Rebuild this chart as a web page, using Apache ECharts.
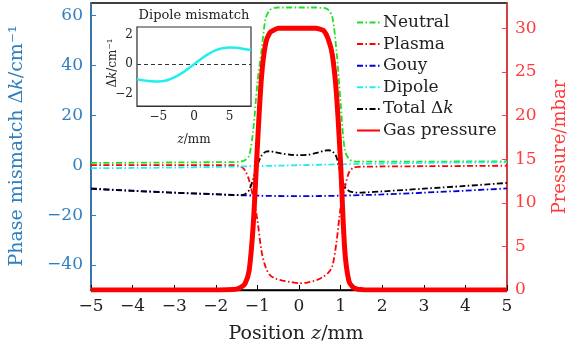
<!DOCTYPE html>
<html>
<head>
<meta charset="utf-8">
<script src="https://cdn.jsdelivr.net/npm/echarts@6/dist/echarts.min.js"></script>
<style>
  html, body { margin: 0; padding: 0; background: #fff; }
  #chart { width: 569px; height: 349px; }
</style>
</head>
<body>
<div id="chart"></div>
<script>
// positions along the beam (mm), shared by the gas-profile curves
const zs = [-5, -4, -3, -2, -1.6, -1.5, -1.4, -1.3, -1.2, -1.1, -1.0, -0.9, -0.8, -0.7, -0.6, -0.5, -0.4, -0.2, 0,
  0.2, 0.4, 0.5, 0.6, 0.7, 0.8, 0.9, 1.0, 1.1, 1.2, 1.3, 1.4, 1.5, 1.6, 2, 3, 4, 5];

const pressure = [0, 0, 0, 0, 0.05, 0.1, 0.3, 0.7, 2.2, 7.5, 16.5, 24.5, 28.3, 29.5, 29.8, 30, 30, 30, 30,
  30, 30, 29.9, 29.7, 28.8, 27.0, 22.5, 14.5, 4.6, 1.0, 0.3, 0.1, 0.05, 0, 0, 0, 0, 0];

const neutral = [0.9, 1.0, 1.1, 1.2, 1.2, 1.3, 1.5, 2.0, 3.8, 14, 33, 46, 59, 62.2, 63, 63.2, 63.2, 63.2, 63.2,
  63.2, 63.2, 63.1, 63, 62.3, 59.5, 46, 25, 6, 2.5, 1.6, 1.4, 1.4, 1.4, 1.4, 1.4, 1.5, 1.5];

const plasma = [0, 0, 0, 0, 0, -0.1, -0.5, -2, -6, -13, -22, -34.5, -41, -44, -45.2, -45.8, -46.2, -46.8, -47.3,
  -47, -46.2, -45.5, -44.5, -43.2, -40.5, -31, -17, -9, -3, -1.0, -0.7, -0.6, -0.6, -0.5, -0.4, -0.3, -0.2];

const total = [-9.5, -10.3, -11.0, -11.6, -11.9, -12.0, -12.0, -11.6, -10.0, -5.5, 0, 3.8, 5.4, 5.6, 5.3, 4.9, 4.6, 4.2, 4.0,
  4.2, 4.8, 5.3, 5.8, 6.0, 5.6, 3.3, -3.3, -8.7, -10.3, -10.8, -11.0, -11.0, -10.9, -10.5, -9.4, -8.3, -7.1];

// slowly varying terms, coarser sampling
const zCoarse = [-5, -4, -3, -2, -1, 0, 1, 2, 3, 4, 5];
const gouy = [-9.3, -10.2, -11.0, -11.7, -12.2, -12.4, -12.2, -11.7, -11.0, -10.2, -9.3];
const dipole = [-1.16, -1.1, -0.93, -0.68, -0.36, 0, 0.36, 0.68, 0.93, 1.08, 1.12];

// inset: dipole mismatch over a wider range
const insetZ = [-8, -7, -6, -5, -4, -3, -2, -1, 0, 1, 2, 3, 4, 5, 6, 7, 8];
const insetDipole = [-1.0, -1.08, -1.14, -1.16, -1.1, -0.93, -0.68, -0.36, 0, 0.36, 0.68, 0.93, 1.08, 1.12, 1.1, 1.03, 0.95];

const xTicks = [-5, -4, -3, -2, -1, 0, 1, 2, 3, 4, 5];
const leftTicks = [-40, -20, 0, 20, 40, 60];
const rightTicks = [0, 5, 10, 15, 20, 25, 30];
const insetXTicks = [-5, 0, 5];
const insetYTicks = [-2, 0, 2];

const FONT = 'DejaVu Serif';
const BLUE_AXIS = '#2f7fc0';
const RED_AXIS = '#ff3b3b';
const DASHDOT = [6, 2.5, 1.5, 2.5];

const pairs = (xs, ys) => xs.map((x, i) => [x, ys[i]]);
const minus = v => String(v).replace('-', '\u2212');

const chart = echarts.init(document.getElementById('chart'), null, { renderer: 'canvas' });

function thin(name, color, xs, ys, type) {
  return {
    name: name, type: 'line', xAxisIndex: 0, yAxisIndex: 0,
    data: pairs(xs, ys), symbol: 'none', smooth: 0.3,
    lineStyle: { color: color, width: 1.8, type: type || DASHDOT },
    itemStyle: { color: color }
  };
}

const option = {
  animation: false,
  backgroundColor: '#fff',
  textStyle: { fontFamily: FONT },
  grid: [
    { left: 91, right: 62, top: 3, bottom: 59, show: true, borderColor: '#000', borderWidth: 1.3 },
    { left: 137, top: 27, width: 114, height: 79, show: true, borderColor: '#333', borderWidth: 1.2, backgroundColor: '#fff', z: 5 }
  ],
  xAxis: [
    {
      type: 'value', gridIndex: 0, min: -5, max: 5, interval: 1,
      axisLine: { onZero: false, lineStyle: { color: '#000', width: 1.3 } },
      axisTick: { inside: true, length: 5, lineStyle: { color: '#000' }, customValues: xTicks },
      axisLabel: { color: '#222', fontSize: 17, fontFamily: FONT, margin: 8, formatter: minus, customValues: xTicks },
      splitLine: { show: false }
    },
    {
      type: 'value', gridIndex: 1, min: -8, max: 8,
      axisLine: { onZero: false, lineStyle: { color: '#333', width: 1.2 } },
      axisTick: { inside: true, length: 3, lineStyle: { color: '#333' }, customValues: insetXTicks },
      axisLabel: { color: '#222', fontSize: 12, fontFamily: FONT, margin: 5, formatter: minus, customValues: insetXTicks },
      splitLine: { show: false }
    }
  ],
  yAxis: [
    {
      type: 'value', gridIndex: 0, min: -50, max: 65, position: 'left',
      axisLine: { show: true, onZero: false, lineStyle: { color: BLUE_AXIS, width: 1.5 } },
      axisTick: { show: true, inside: true, length: 5, lineStyle: { color: BLUE_AXIS }, customValues: leftTicks },
      axisLabel: { color: BLUE_AXIS, fontSize: 17, fontFamily: FONT, margin: 8, formatter: minus, customValues: leftTicks },
      splitLine: { show: false }
    },
    {
      type: 'value', gridIndex: 0, min: 0, max: 32.9, position: 'right',
      axisLine: { show: true, onZero: false, lineStyle: { color: RED_AXIS, width: 1.5 } },
      axisTick: { show: true, inside: true, length: 5, lineStyle: { color: RED_AXIS }, customValues: rightTicks },
      axisLabel: { color: RED_AXIS, fontSize: 17, fontFamily: FONT, margin: 8, customValues: rightTicks },
      splitLine: { show: false }
    },
    {
      type: 'value', gridIndex: 1, min: -2.8, max: 2.5,
      axisLine: { show: true, onZero: false, lineStyle: { color: '#333', width: 1.2 } },
      axisTick: { show: true, inside: true, length: 3, lineStyle: { color: '#333' }, customValues: insetYTicks },
      axisLabel: { color: '#222', fontSize: 12, fontFamily: FONT, margin: 4, formatter: minus, customValues: insetYTicks },
      splitLine: { show: false }
    }
  ],
  legend: {
    orient: 'vertical', left: 351, top: 9,
    itemWidth: 23, itemHeight: 14, itemGap: 4.6,
    itemStyle: { opacity: 0 },
    textStyle: { fontFamily: FONT, fontSize: 17, color: '#222', lineHeight: 16, padding: [0, 0, 0, -2],
      rich: { i: { fontFamily: FONT, fontSize: 17, fontStyle: 'italic', color: '#222', lineHeight: 16 } } },
    formatter: n => n === 'Total \u0394k' ? 'Total \u0394{i|k}' : n,
    data: ['Neutral', 'Plasma', 'Gouy', 'Dipole', 'Total \u0394k', 'Gas pressure']
  },
  series: [
    thin('Neutral', '#1ee01e', zs, neutral),
    thin('Plasma', '#ff0000', zs, plasma),
    thin('Gouy', '#0000e0', zCoarse, gouy),
    thin('Dipole', '#1eeeee', zCoarse, dipole),
    thin('Total \u0394k', '#000000', zs, total),
    {
      name: 'Gas pressure', type: 'line', xAxisIndex: 0, yAxisIndex: 1,
      data: pairs(zs, pressure), symbol: 'none', smooth: 0.3,
      lineStyle: { color: '#ff0000', width: 5 }, itemStyle: { color: '#ff0000' }
    },
    {
      name: 'inset', type: 'line', xAxisIndex: 1, yAxisIndex: 2, z: 6,
      data: pairs(insetZ, insetDipole), symbol: 'none', smooth: true,
      lineStyle: { color: '#22eeee', width: 2.5 },
      markLine: {
        silent: true, symbol: 'none', label: { show: false },
        lineStyle: { color: '#333', type: [4, 3], width: 1 },
        data: [{ yAxis: 0 }]
      }
    }
  ],
  graphic: [
    { type: 'text', x: 17, y: 146, rotation: Math.PI / 2, z: 10,
      style: { text: 'Phase mismatch \u0394{i|k}/cm\u207b\u00b9', fill: BLUE_AXIS, font: '19px "DejaVu Serif"', align: 'center', verticalAlign: 'middle',
        rich: { i: { fill: BLUE_AXIS, font: 'italic 19px "DejaVu Serif"' } } } },
    { type: 'text', x: 560, y: 147, rotation: Math.PI / 2, z: 10,
      style: { text: 'Pressure/mbar', fill: RED_AXIS, font: '18px "DejaVu Serif"', align: 'center', verticalAlign: 'middle' } },
    { type: 'text', x: 296, y: 334, z: 10,
      style: { text: 'Position {i|z}/mm', fill: '#222', font: '19px "DejaVu Serif"', align: 'center', verticalAlign: 'middle',
        rich: { i: { fill: '#222', font: 'italic 19px "DejaVu Serif"' } } } },
    { type: 'text', x: 194, y: 16, z: 10,
      style: { text: 'Dipole mismatch', fill: '#222', font: '13px "DejaVu Serif"', align: 'center', verticalAlign: 'middle' } },
    { type: 'text', x: 194, y: 140, z: 10,
      style: { text: '{i|z}/mm', fill: '#222', font: '12px "DejaVu Serif"', align: 'center', verticalAlign: 'middle',
        rich: { i: { fill: '#222', font: 'italic 12px "DejaVu Serif"' } } } },
    { type: 'text', x: 113, y: 63, rotation: Math.PI / 2, z: 10,
      style: { text: '\u0394{i|k}/cm\u207b\u00b9', fill: '#222', font: '12px "DejaVu Serif"', align: 'center', verticalAlign: 'middle',
        rich: { i: { fill: '#222', font: 'italic 12px "DejaVu Serif"' } } } }
  ]
};

chart.setOption(option);
</script>
</body>
</html>
